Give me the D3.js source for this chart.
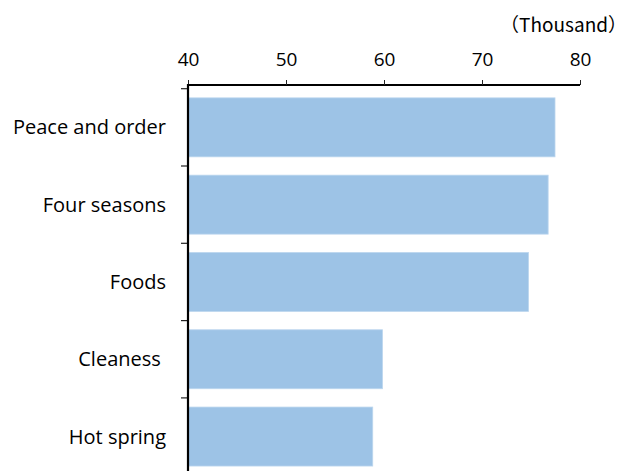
<!DOCTYPE html>
<html>
<head>
<meta charset="utf-8">
<script src="https://cdn.jsdelivr.net/npm/d3@7"></script>
<style>
  html, body { margin: 0; padding: 0; background: #fff; }
  svg { display: block; }
  .lbl { font-family: "Open Sans", "Noto Sans", sans-serif; white-space: pre; }
</style>
</head>
<body>
<svg id="chart" width="627" height="471"></svg>
<script>
// Reasons visitors liked Japan (thousand respondents)
const categories = ["Peace and order", "Four seasons", "Foods", "Cleaness ", "Hot spring"];
const values = [77.45, 76.75, 74.75, 59.85, 58.85];
const xTicks = [40, 50, 60, 70, 80];
const unitLabel = "（Thousand）";

const svg = d3.select("#chart");

const x = d3.scaleLinear().domain([40, 80]).range([188, 580]);
const y = d3.scaleBand()
  .domain(categories)
  .range([88.7, 475.2])
  .paddingInner(0.237)
  .paddingOuter(0.1185);

// bars
svg.append("g").selectAll("rect")
  .data(categories)
  .join("rect")
  .attr("x", x(40))
  .attr("y", d => y(d))
  .attr("width", (d, i) => x(values[i]) - x(40))
  .attr("height", y.bandwidth())
  .attr("fill", "#9dc3e6")
  .attr("stroke", "#bcd6ee")
  .attr("stroke-width", 0.8);

// top value axis
const xAxis = svg.append("g")
  .attr("transform", "translate(0,85)")
  .call(d3.axisTop(x).tickValues(xTicks).tickSize(5).tickPadding(14).tickFormat(d3.format("d")));
xAxis.select(".domain").attr("stroke", "#000").attr("stroke-width", 2).attr("d", `M${x(40)},0H${x(80)}`);
xAxis.selectAll(".tick line").attr("stroke", "#222").attr("stroke-width", 1);
xAxis.selectAll(".tick text")
  .attr("class", "lbl")
  .attr("fill", "#000")
  .style("font-size", "19px");

// category axis: boundary ticks between bands
const gap = y.step() * y.paddingInner() / 2;
const bounds = categories.map(c => y(c) - gap);
const yAxis = svg.append("g");
yAxis.selectAll("line.tk")
  .data(bounds)
  .join("line")
  .attr("class", "tk")
  .attr("x1", x(40) - 7).attr("x2", x(40))
  .attr("y1", d => d).attr("y2", d => d)
  .attr("stroke", "#222").attr("stroke-width", 1.2);
yAxis.append("line")
  .attr("x1", x(40)).attr("x2", x(40))
  .attr("y1", 84).attr("y2", 471)
  .attr("stroke", "#000").attr("stroke-width", 2.2);

yAxis.selectAll("text")
  .data(categories)
  .join("text")
  .attr("class", "lbl")
  .attr("x", 166)
  .attr("y", d => y(d) + y.bandwidth() / 2)
  .attr("dy", "0.35em")
  .attr("text-anchor", "end")
  .style("font-size", "20px")
  .attr("fill", "#000")
  .text(d => d);

// unit label
svg.append("text")
  .attr("x", 627)
  .attr("y", 31.5)
  .attr("text-anchor", "end")
  .style("font-family", "'Noto Sans CJK JP', sans-serif")
  .style("font-size", "19px")
  .attr("fill", "#000")
  .text(unitLabel);
</script>
</body>
</html>
